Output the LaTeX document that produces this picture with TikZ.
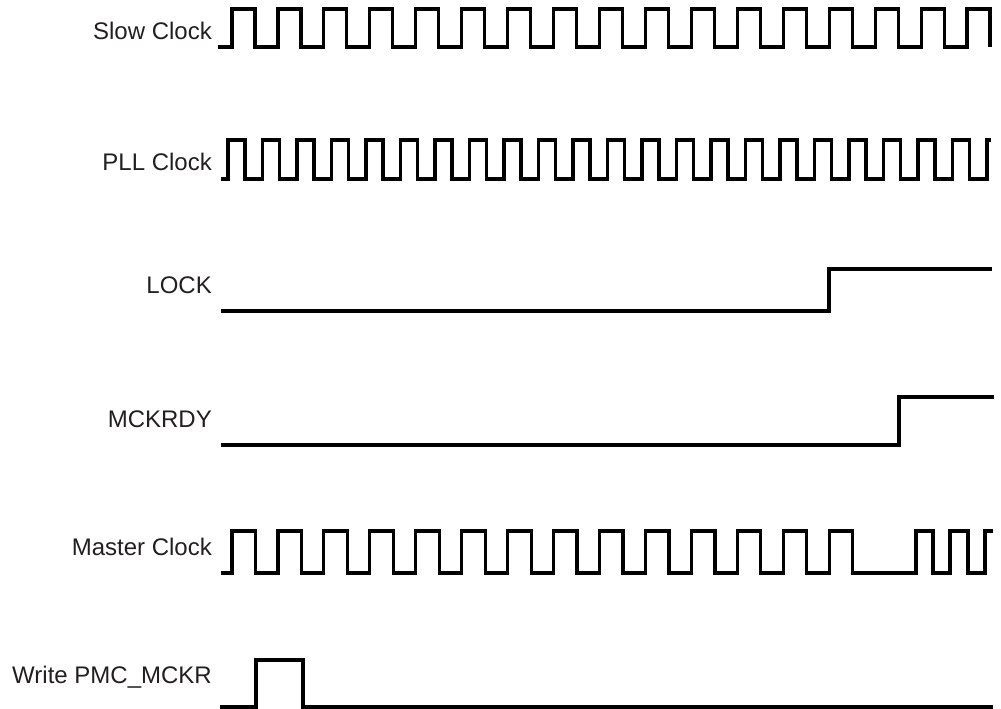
\documentclass[tikz,border=0pt]{standalone}
\usepackage{fontspec}
\setmainfont{Liberation Sans}
\definecolor{txt}{HTML}{231F20}
\begin{document}
\begin{tikzpicture}[x=1pt,y=-1pt,
  lbl/.style={anchor=base east,inner sep=0pt,text=txt,font=\fontsize{24}{27}\selectfont},
  wave/.style={line width=3.2pt,line join=miter,black}]
\useasboundingbox (0,0) rectangle (1001,709);
% labels
\node[lbl] (lslow) at (212,40) {Slow Clock};
\node[lbl] (lpll) at (212,170) {PLL Clock};
\node[lbl] (llock) at (212,293) {LOCK};
\node[lbl] (lmck) at (212,427) {MCKRDY};
\node[lbl] (lmaster) at (212,555) {Master Clock};
\node[lbl] (lwrite) at (212,683) {Write PMC\_MCKR};
% Slow Clock
\coordinate (sslow) at (218,47);
\draw[wave] (sslow) \foreach \k in {0,...,16}{
  -- ({232+45.94*\k},47) -- ({232+45.94*\k},9) -- ({255+45.94*\k},9) -- ({255+45.94*\k},47)};
% PLL Clock
\coordinate (spll) at (221,179);
\draw[wave] (spll) \foreach \k in {0,...,21}{
  -- ({228+34.5*\k},179) -- ({228+34.5*\k},140) -- ({245+34.5*\k},140) -- ({245+34.5*\k},179)}
  -- (987,179) -- (987,140) -- (991,140);
% LOCK
\coordinate (slock) at (221,311);
\draw[wave] (slock) -- (829,311) -- (829,269) -- (992,269);
% MCKRDY
\coordinate (smck) at (221,445);
\draw[wave] (smck) -- (899,445) -- (899,397) -- (994,397);
% Master Clock
\coordinate (smaster) at (221,573);
\draw[wave] (smaster) \foreach \k in {0,...,13}{
  -- ({232+45.94*\k},573) -- ({232+45.94*\k},531) -- ({255.5+45.94*\k},531) -- ({255.5+45.94*\k},573)}
  -- (916,573) -- (916,531) -- (933,531) -- (933,573)
  -- (950,573) -- (950,531) -- (968,531) -- (968,573)
  -- (985,573) -- (985,531) -- (993,531);
% Write PMC_MCKR
\coordinate (swrite) at (220,707);
\draw[wave] (swrite) -- (256,707) -- (256,660) -- (303,660) -- (303,707) -- (993,707);
\end{tikzpicture}
\end{document}
